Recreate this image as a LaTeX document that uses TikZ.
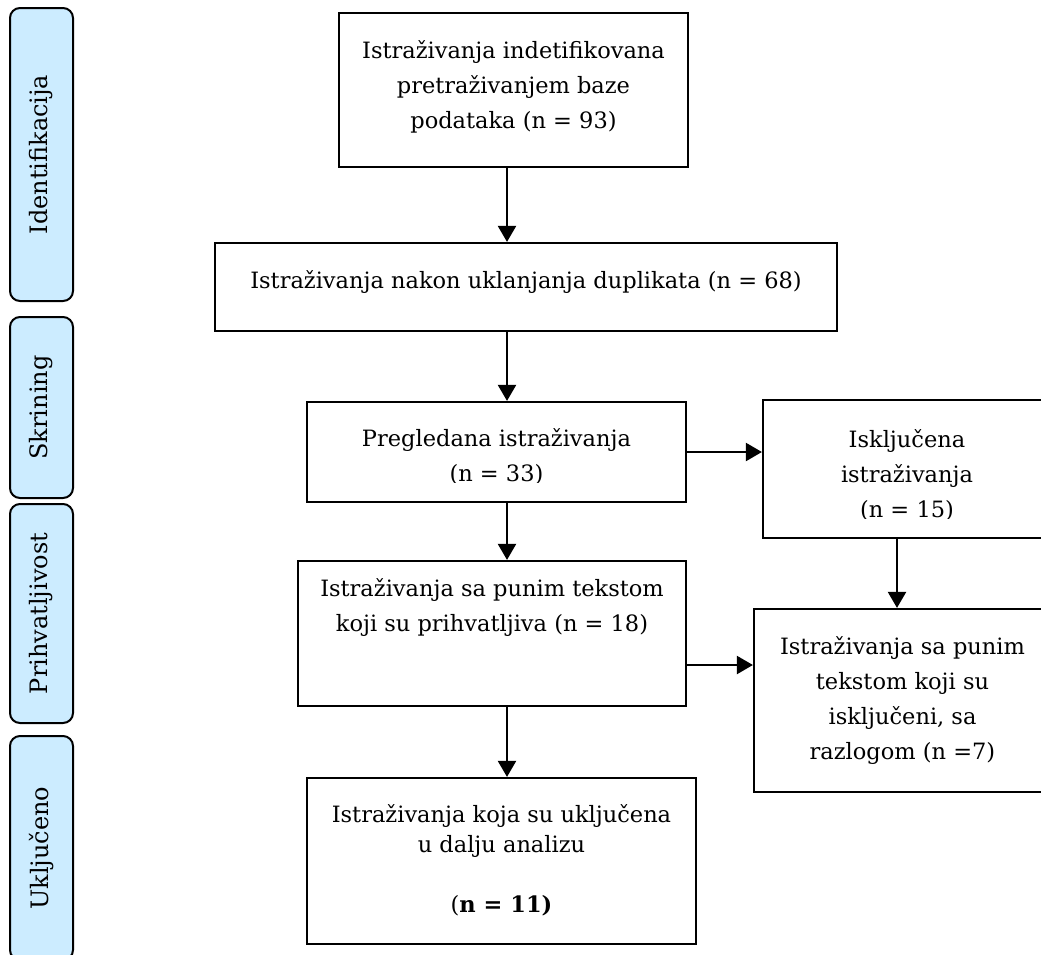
\documentclass[tikz,border=0pt]{standalone}
\usepackage{fontspec}
\setmainfont{DejaVu Serif}
\usetikzlibrary{arrows.meta}

\definecolor{stageblue}{HTML}{CCECFF}
\tikzset{
    box/.style={draw, rectangle, line width=2.2pt, inner sep=0pt},
    stage/.style={draw, rectangle, rounded corners=10pt, fill=stageblue, line width=2pt, inner sep=0pt, rotate=90, font=\fontsize{24}{28}\selectfont},
    txt/.style={align=center, inner sep=0pt, font=\fontsize{22.5}{35}\selectfont},
    flow/.style={-{Triangle[length=16pt,width=18pt]}, line width=2.2pt}
}

\begin{document}
\begin{tikzpicture}[x=1pt, y=-1pt]
        \useasboundingbox (0,0) rectangle (1041,954);

        % Define nodes for the stages
        \node at (41.5, 154.5) (s1) [stage, minimum width=293pt, minimum height=63pt] {Identifikacija};
        \node at (41.5, 407.5) (s2) [stage, minimum width=181pt, minimum height=63pt] {Skrining};
        \node at (41.5, 613.5) (s3) [stage, minimum width=219pt, minimum height=63pt] {Prihvatljivost};
        \node at (41.5, 848) (s4) [stage, minimum width=224pt, minimum height=63pt] {Uključeno};

        % Define nodes for the boxes
        \node at (513.5, 90) (b1) [box, minimum width=349pt, minimum height=154pt] {};
        \node at (526, 287) (b2) [box, minimum width=622pt, minimum height=88pt] {};
        \node at (496.5, 452) (b3) [box, minimum width=379pt, minimum height=100pt] {};
        \node at (907, 469) (b4) [box, minimum width=288pt, minimum height=138pt] {};
        \node at (492, 633.5) (b5) [box, minimum width=388pt, minimum height=145pt] {};
        \node at (902.5, 700.5) (b6) [box, minimum width=297pt, minimum height=183pt] {};
        \node at (501.5, 861) (b7) [box, minimum width=389pt, minimum height=166pt] {};

        % Define nodes for the texts
        \node at (513.5, 87) (t1) [txt] {Istraživanja indetifikovana\\pretraživanjem baze\\podataka (n = 93)};
        \node at (526, 282) (t2) [txt] {Istraživanja nakon uklanjanja duplikata (n = 68)};
        \begin{scope}
            \clip (b3.north west) rectangle ([yshift=21pt]b3.south east);
            \node at (496.5, 456.5) (t3) [txt] {Pregledana istraživanja\\(n = 33)};
        \end{scope}
        \begin{scope}
            \clip (b4.north west) rectangle ([yshift=21pt]b4.south east);
            \node at (907, 475) (t4) [txt] {Isključena\\istraživanja\\(n = 15)};
        \end{scope}
        \node at (492, 607.5) (t5) [txt] {Istraživanja sa punim tekstom\\koji su prihvatljiva (n = 18)};
        \node at (902.5, 700.5) (t6) [txt] {Istraživanja sa punim\\tekstom koji su\\isključeni, sa\\razlogom (n =7)};
        \node at (501.5, 860) (t7) [txt, font=\fontsize{22.5}{30}\selectfont] {Istraživanja koja su uključena\\u dalju analizu\\[30pt](\textbf{n = 11)}};

        % Draw edges
        \coordinate (axis) at (507, 0);
        \coordinate (drop) at (897, 0);
        \coordinate (side) at (0, 665);
        \draw[flow] (b1.south -| axis) -- (b2.north -| axis);
        \draw[flow] (b2.south -| axis) -- (b3.north -| axis);
        \draw[flow] (b3.south -| axis) -- (b5.north -| axis);
        \draw[flow] (b5.south -| axis) -- (b7.north -| axis);
        \draw[flow] (b3.east) -- (b3.east -| b4.west);
        \draw[flow] (b4.south -| drop) -- (b6.north -| drop);
        \draw[flow] (b5.east |- side) -- (b6.west |- side);
    \end{tikzpicture}
\end{document}
